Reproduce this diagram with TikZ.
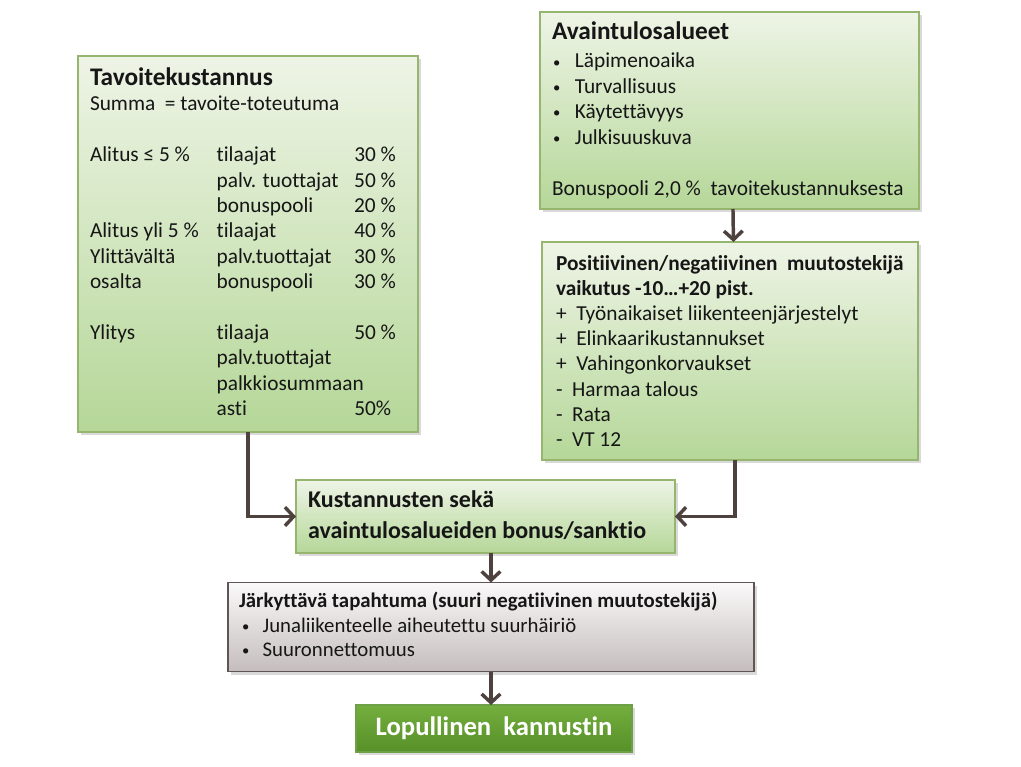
\documentclass[tikz,border=0pt]{standalone}
\usepackage{fontspec}
\setmainfont{Carlito}[Ligatures=NoCommon]
\usetikzlibrary{arrows.meta,shadows}
\definecolor{gtop}{RGB}{238,244,230}
\definecolor{gbot}{RGB}{181,215,152}
\definecolor{gline}{RGB}{150,182,112}
\definecolor{ytop}{RGB}{250,249,249}
\definecolor{ybot}{RGB}{197,189,189}
\definecolor{yline}{RGB}{95,85,85}
\definecolor{ftop}{RGB}{116,174,62}
\definecolor{fbot}{RGB}{86,144,40}
\definecolor{fline}{RGB}{110,160,70}
\definecolor{arrc}{RGB}{78,66,62}
\definecolor{txt}{RGB}{22,22,22}
\newcommand{\bul}{{\fontsize{11}{11}\selectfont\raisebox{0.6pt}{•}}}
\begin{document}
\begin{tikzpicture}[x=0.75pt,y=-0.75pt,
  boxbase/.style={inner sep=0pt, outer sep=0pt, line width=0.8pt,
    drop shadow={opacity=0.3, shadow xshift=2pt, shadow yshift=-2.5pt}},
  gbox/.style={boxbase, draw=gline, top color=gtop, bottom color=gbot},
  ybox/.style={boxbase, draw=yline, top color=ytop, bottom color=ybot},
  fbox/.style={boxbase, draw=fline, top color=ftop, bottom color=fbot,
    text=white, font=\fontsize{20}{23}\selectfont\bfseries},
  lbl/.style={inner sep=0pt, outer sep=0pt, text=txt, anchor=base west},
  body/.style={lbl, font=\fontsize{16}{19.05}\selectfont},
  ttl/.style={lbl, font=\fontsize{19}{22}\selectfont\bfseries},
  hdr/.style={lbl, font=\fontsize{16}{19}\selectfont\bfseries},
  arr/.style={draw=arrc, line width=2.6pt, -{Straight Barb[length=6.5pt,width=14pt]}},
]
\useasboundingbox (0,0) rectangle (1021,767);

% ---------- boxes ----------
\node[gbox, minimum width=255pt, minimum height=282pt] (A) at (248,244) {};
\node[gbox, minimum width=284.25pt, minimum height=147.75pt] (B) at (729.5,110.5) {};
\node[gbox, minimum width=282pt, minimum height=163.5pt] (C) at (730,351) {};
\node[gbox, minimum width=284.25pt, minimum height=54.75pt] (D) at (485.5,516.5) {};
\node[ybox, minimum width=394.5pt, minimum height=66.75pt] (E) at (491,627) {};
\node[fbox, minimum width=207pt, minimum height=35.25pt] (F) at (494,728.5) {Lopullinen\ \ kannustin};

% ---------- box A text ----------
\node[ttl] (Atitle) at (90,85) {Tavoitekustannus};
\node[body] (Atab) at (90,111) {\begin{tabular}[t]{@{}p{95pt}@{}p{103.2pt}@{}l@{}}
\multicolumn{3}{@{}l}{Summa\ \ = tavoite-toteutuma}\\
 & & \\
Alitus ≤ 5 \% & tilaajat & 30 \%\\
 & palv. tuottajat & 50 \%\\
 & bonuspooli & 20 \%\\
Alitus yli 5 \% & tilaajat & 40 \%\\
Ylittävältä & palv.tuottajat & 30 \%\\
osalta & bonuspooli & 30 \%\\
 & & \\
Ylitys & tilaaja & 50 \%\\
 & palv.tuottajat & \\
 & \multicolumn{2}{@{}l}{palkkiosummaan}\\
 & asti & 50\%
\end{tabular}};

% ---------- box B text ----------
\node[ttl] (Btitle) at (552,40) {Avaintulosalueet};
\node[body] (Bl1) at (553,68) {\bul\hspace{11pt}Läpimenoaika};
\node[body] (Bl2) at (553,93.4) {\bul\hspace{11pt}Turvallisuus};
\node[body] (Bl3) at (553,118.8) {\bul\hspace{11pt}Käytettävyys};
\node[body] (Bl4) at (553,144.2) {\bul\hspace{11pt}Julkisuuskuva};
\node[body] (Bl5) at (552,195) {Bonuspooli 2,0 \%\ \ tavoitekustannuksesta};

% ---------- box C text ----------
\node[hdr] (Ch1) at (556,270) {Positiivinen/negatiivinen\ \ muutostekijä};
\node[hdr] (Ch2) at (556,295.2) {vaikutus -10…+20 pist.};
\node[body] (Cl1) at (556,320.4) {+\ \ Työnaikaiset liikenteenjärjestelyt};
\node[body] (Cl2) at (556,345.6) {+\ \ Elinkaarikustannukset};
\node[body] (Cl3) at (556,370.8) {+\ \ Vahingonkorvaukset};
\node[body] (Cl4) at (556,396) {-\ \ Harmaa talous};
\node[body] (Cl5) at (556,421.2) {-\ \ Rata};
\node[body] (Cl6) at (556,446.4) {-\ \ VT 12};

% ---------- box D text ----------
\node[lbl, font=\fontsize{18}{21}\selectfont\bfseries] (Dl1) at (308,507) {Kustannusten sekä};
\node[lbl, font=\fontsize{18}{21}\selectfont\bfseries] (Dl2) at (308,538) {avaintulosalueiden bonus/sanktio};

% ---------- box E text ----------
\node[lbl, font=\fontsize{15.6}{18}\selectfont\bfseries] (Eh) at (239,607) {Järkyttävä tapahtuma (suuri negatiivinen muutostekijä)};
\node[lbl, font=\fontsize{15.6}{18}\selectfont] (El1) at (242,632) {\bul\hspace{10pt}Junaliikenteelle aiheutettu suurhäiriö};
\node[lbl, font=\fontsize{15.6}{18}\selectfont] (El2) at (242,656) {\bul\hspace{10pt}Suuronnettomuus};

% ---------- connectors ----------
\draw[arr] (A.south) |- (D.west);
\draw[arr] ([xshift=3.75pt]C.south) |- (D.east);
\draw[arr] ([xshift=2.6pt]B.south) -- ([xshift=2.6pt]C.north);
\draw[arr] (E.north |- D.south) -- (E.north);
\draw[arr] (E.south) -- (E.south |- F.north);
\end{tikzpicture}
\end{document}
